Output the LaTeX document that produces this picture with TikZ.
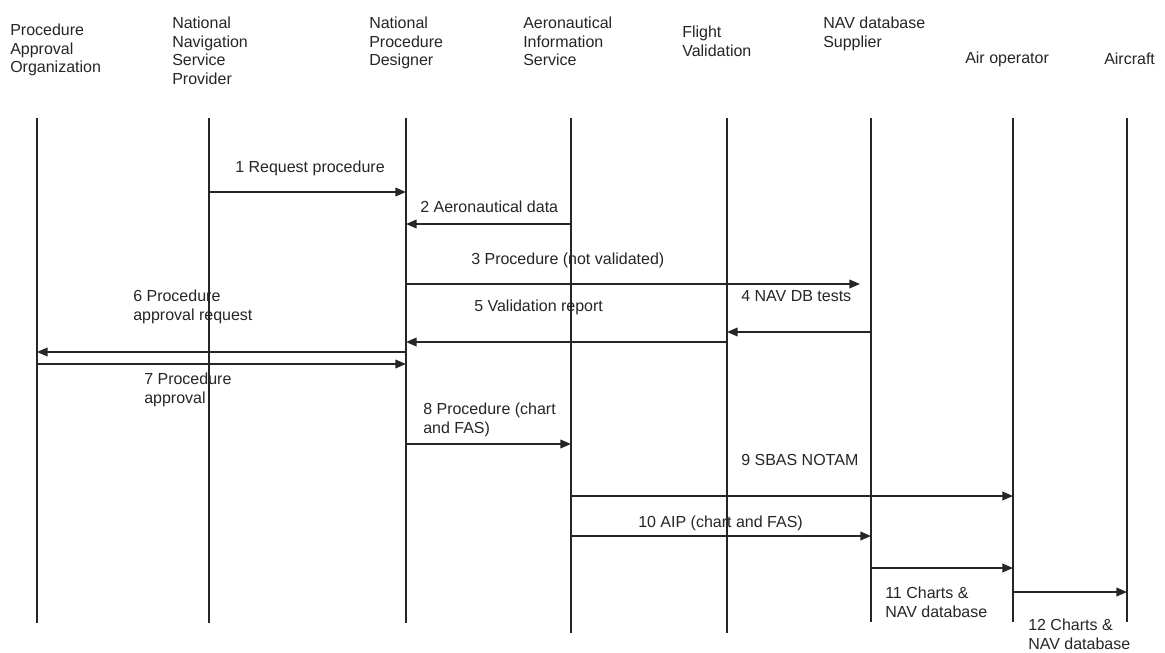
\documentclass[tikz,border=0pt]{standalone}
\usepackage{fontspec}
\setmainfont{Liberation Sans}
\usetikzlibrary{arrows.meta, calc}

\begin{document}
\begin{tikzpicture}[
    x=0.75pt, y=-0.75pt,
    >={Triangle[length=8pt, width=6.5pt]},
    life/.style={line width=1.2pt, black!85},
    msg/.style={->, line width=1.2pt, black!85},
    head/.style={anchor=north west, align=left, inner sep=0pt,
        text=black!85, font=\fontsize{12}{13.9}\selectfont},
    lbl/.style={head},
]

%--- Page frame ---
\fill[white] (0,0) rectangle (1165,653);
\useasboundingbox (0,0) rectangle (1165,653);

%--- Lifelines (name/x/bottom) ---
\foreach \n/\x/\b in {pao/37/623, nnsp/209/623, npd/406/623, ais/571/633,
                      fv/727/633, ndb/871/622, aop/1013/622, acft/1127/622}{
    \coordinate (\n) at (\x,118);
    \draw[life] (\n) -- (\x,\b);
}

%--- Headers ---
\node[head] (hpao)  at (10,24)   {Procedure\\Approval\\Organization};
\node[head] (hnnsp) at (172,17)  {National\\Navigation\\Service\\Provider};
\node[head] (hnpd)  at (369,17)  {National\\Procedure\\Designer};
\node[head] (hais)  at (523,17)  {Aeronautical\\Information\\Service};
\node[head] (hfv)   at (682,26)  {Flight\\Validation};
\node[head] (hndb)  at (823,17)  {NAV database\\Supplier};
\node[head] (haop)  at (965,52)  {Air operator};
\node[head] (hacft) at (1104,53) {Aircraft};

%--- Messages ---
\draw[msg] (nnsp |- 0,192) -- (npd |- 0,192);
\node[lbl] (m1) at (235,161) {1 Request procedure};

\draw[msg] (ais |- 0,224) -- (npd |- 0,224);
\node[lbl] (m2) at (420,201) {2 Aeronautical data};

\draw[msg] (npd |- 0,284) -- ($(ndb |- 0,284)+(-11,0)$);
\node[lbl] (m3) at (471,253) {3 Procedure (not validated)};

\draw[msg] (ndb |- 0,332) -- (fv |- 0,332);
\node[lbl] (m4) at (741,290) {4 NAV DB tests};

\draw[msg] (fv |- 0,342) -- (npd |- 0,342);
\node[lbl] (m5) at (474,300) {5 Validation report};

\draw[msg] (npd |- 0,352) -- (pao |- 0,352);
\node[lbl] (m6) at (133,290) {6 Procedure\\approval request};

\draw[msg] (pao |- 0,364) -- (npd |- 0,364);
\node[lbl] (m7) at (144,373) {7 Procedure\\approval};

\draw[msg] (npd |- 0,444) -- (ais |- 0,444);
\node[lbl] (m8) at (423,403) {8 Procedure (chart\\and FAS)};

\draw[msg] (ais |- 0,496) -- (aop |- 0,496);
\node[lbl] (m9) at (741,454) {9 SBAS NOTAM};

\draw[msg] (ais |- 0,536) -- (ndb |- 0,536);
\node[lbl] (m10) at (638,516) {10 AIP (chart and FAS)};

\draw[msg] (ndb |- 0,568) -- (aop |- 0,568);
\node[lbl] (m11) at (885,587) {11 Charts \&\\NAV database};

\draw[msg] (aop |- 0,592) -- (acft |- 0,592);
\node[lbl] (m12) at (1028,619) {12 Charts \&\\NAV database};

\end{tikzpicture}
\end{document}
